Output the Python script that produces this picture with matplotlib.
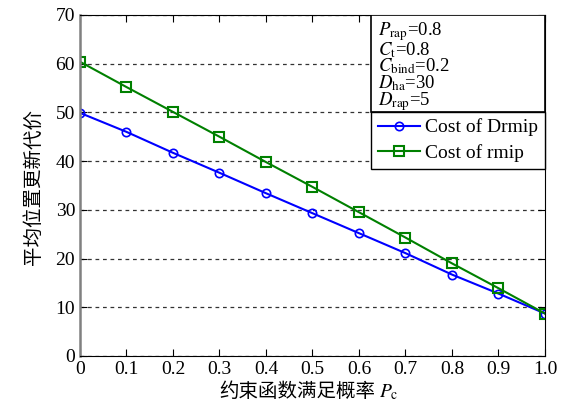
import matplotlib
matplotlib.use('Agg')
import matplotlib.pyplot as plt
from matplotlib.patches import Rectangle

plt.rcParams['font.family'] = ['Liberation Serif', 'Noto Sans CJK SC']
plt.rcParams['mathtext.fontset'] = 'stix'

# data
pc = [0, 0.1, 0.2, 0.3, 0.4, 0.5, 0.6, 0.7, 0.8, 0.9, 1.0]
cost_drmip = [49.9, 46.0, 41.7, 37.6, 33.4, 29.3, 25.2, 21.1, 16.7, 12.8, 8.7]
cost_rmip = [60.4, 55.2, 50.1, 45.0, 39.8, 34.7, 29.5, 24.3, 19.0, 13.9, 8.7]
xticklabels = ['0', '0.1', '0.2', '0.3', '0.4', '0.5', '0.6', '0.7', '0.8', '0.9', '1.0']
params = ['$P_\\mathrm{rap}$=0.8', '$C_\\mathrm{t}$=0.8', '$C_\\mathrm{bind}$=0.2',
          '$D_\\mathrm{ha}$=30', '$D_\\mathrm{rap}$=5']

fig = plt.figure(figsize=(5.63, 4.04), dpi=100)
ax = fig.add_axes([0.142, 0.119, 0.826, 0.844])

ax.plot(pc, cost_drmip, color='blue', marker='o', markersize=6, mfc='none',
        mew=1.2, lw=1.5, label='Cost of Drmip')
ax.plot(pc, cost_rmip, color='green', marker='s', markersize=7, mfc='none',
        mew=1.5, lw=1.5, label='Cost of rmip')

ax.set_xlim(0, 1)
ax.set_ylim(0, 70)
ax.set_xticks(pc)
ax.set_xticklabels(xticklabels)
ax.set_yticks(range(0, 71, 10))
ax.tick_params(direction='in', labelsize=14, top=True, right=True, length=5)
ax.yaxis.grid(True, linestyle=(0, (3, 3)), color='#333333', lw=0.9)
ax.spines['left'].set_color('#808080')
ax.spines['left'].set_linewidth(1.8)

# axis labels (CJK text and math part drawn separately)
fig.text(375 / 563, 1 - 392 / 404, '约束函数满足概率', fontsize=14,
         ha='right', va='center')
fig.text(379 / 563, 1 - 392 / 404, '$P_\\mathrm{c}$', fontsize=14,
         ha='left', va='center')
fig.text(33 / 563, 1 - 187 / 404, '平均位置更新代价', fontsize=14,
         rotation=90, ha='center', va='center')

# parameter box
ax.add_patch(Rectangle((0.626, 0.716), 0.374, 0.284, transform=ax.transAxes,
                       fc='white', ec='black', lw=1.2, zorder=5))
ax.text(0.641, 1 - 5 / 341, '\n'.join(params), transform=ax.transAxes,
        fontsize=13.5, ha='left', va='top', linespacing=0.8, zorder=6)

leg = ax.legend(loc='upper right', bbox_to_anchor=(1.0, 0.716), fontsize=14,
                fancybox=False, framealpha=1, edgecolor='black',
                handlelength=2.2, handletextpad=0.25, borderpad=0.35,
                labelspacing=0.4, borderaxespad=0)
leg.get_frame().set_linewidth(1.0)
leg.set_zorder(7)

fig.savefig('out.png', dpi=100)
